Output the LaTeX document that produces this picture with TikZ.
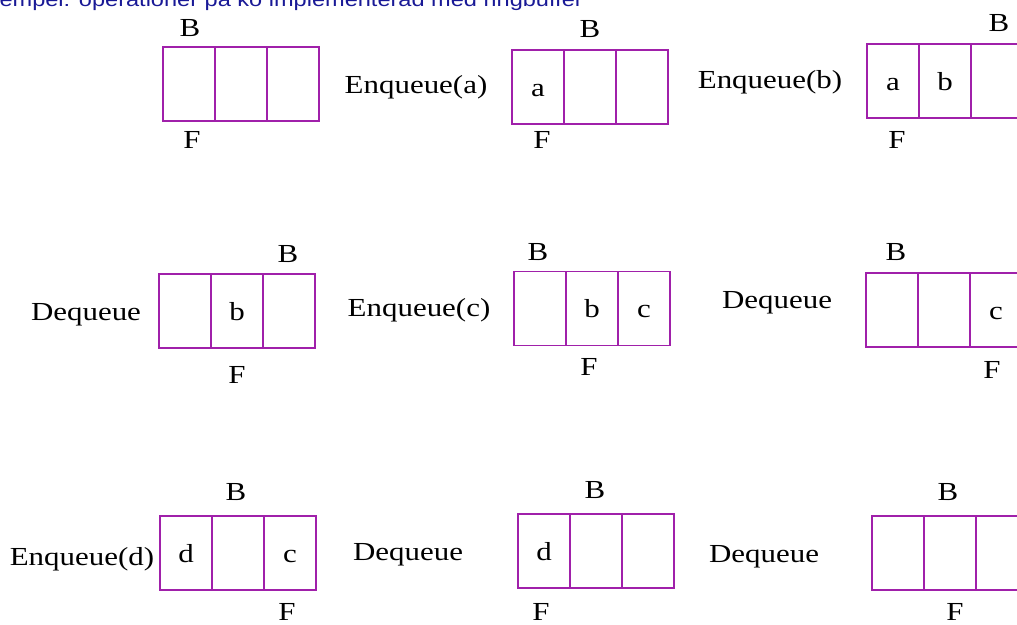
\documentclass[tikz,border=0pt]{standalone}
\usepackage{fontspec}
\setmainfont{Liberation Serif}[FakeStretch=1.19]
\newfontfamily\titlefont{Liberation Sans}[FakeStretch=1.19]
\definecolor{boxpurple}{RGB}{160,32,170}
\definecolor{titleblue}{RGB}{25,25,150}
\newcommand\qbox[6]{%
  \node[cell] (#1-1) at (#2,#3) {#4};
  \node[cell] (#1-2) at (#2+52,#3) {#5};
  \node[cell] (#1-3) at (#2+104,#3) {#6};}
\tikzset{
  cell/.style={draw=boxpurple, line width=1.4pt, minimum width=52pt, minimum height=74pt,
    inner sep=0pt, text height=18pt, text depth=0pt, font=\fontsize{26}{30}\selectfont},
  lbl/.style={anchor=base, inner sep=0pt, font=\fontsize{26}{30}\selectfont},
  title/.style={anchor=base east, inner sep=0pt, text=titleblue, font=\titlefont\fontsize{19.8}{24}\selectfont}
}
\begin{document}
\begin{tikzpicture}[x=1pt,y=-1pt]
\useasboundingbox (0,0) rectangle (1017,624);
\clip (0,0) rectangle (1017,624);
\node[title] (title) at (583,6) {Exempel: operationer på kö implementerad med ringbuffer};
% row 1
\qbox{q1}{189}{84}{}{}{}
\node[lbl] (q1B) at (190,36) {B};
\node[lbl] (q1F) at (192,148) {F};
\node[lbl] (op1) at (416,93) {Enqueue(a)};
\qbox{q2}{538}{87}{a}{}{}
\node[lbl] (q2B) at (590,37) {B};
\node[lbl] (q2F) at (542,148) {F};
\node[lbl] (op2) at (770,88) {Enqueue(b)};
\qbox{q3}{893}{81}{a}{b}{}
\node[lbl] (q3B) at (999,31) {B};
\node[lbl] (q3F) at (897,148) {F};
% row 2
\node[lbl] (op3) at (86,320) {Dequeue};
\qbox{q4}{185}{311}{}{b}{}
\node[lbl] (q4B) at (288,262) {B};
\node[lbl] (q4F) at (237,383) {F};
\node[lbl] (op4) at (419,316) {Enqueue(c)};
\qbox{q5}{540}{308.5}{}{b}{c}
\node[lbl] (q5B) at (538,260) {B};
\node[lbl] (q5F) at (589,375) {F};
\node[lbl] (op5) at (777,308) {Dequeue};
\qbox{q6}{892}{310}{}{}{c}
\node[lbl] (q6B) at (896,260) {B};
\node[lbl] (q6F) at (992,378) {F};
% row 3
\node[lbl] (op6) at (82,565) {Enqueue(d)};
\qbox{q7}{186}{553}{d}{}{c}
\node[lbl] (q7B) at (236,500) {B};
\node[lbl] (q7F) at (287,620) {F};
\node[lbl] (op7) at (408,560) {Dequeue};
\qbox{q8}{544}{551}{d}{}{}
\node[lbl] (q8B) at (595,498) {B};
\node[lbl] (q8F) at (541,620) {F};
\node[lbl] (op8) at (764,562) {Dequeue};
\qbox{q9}{898}{553}{}{}{}
\node[lbl] (q9B) at (948,500) {B};
\node[lbl] (q9F) at (955,620) {F};
\end{tikzpicture}
\end{document}
